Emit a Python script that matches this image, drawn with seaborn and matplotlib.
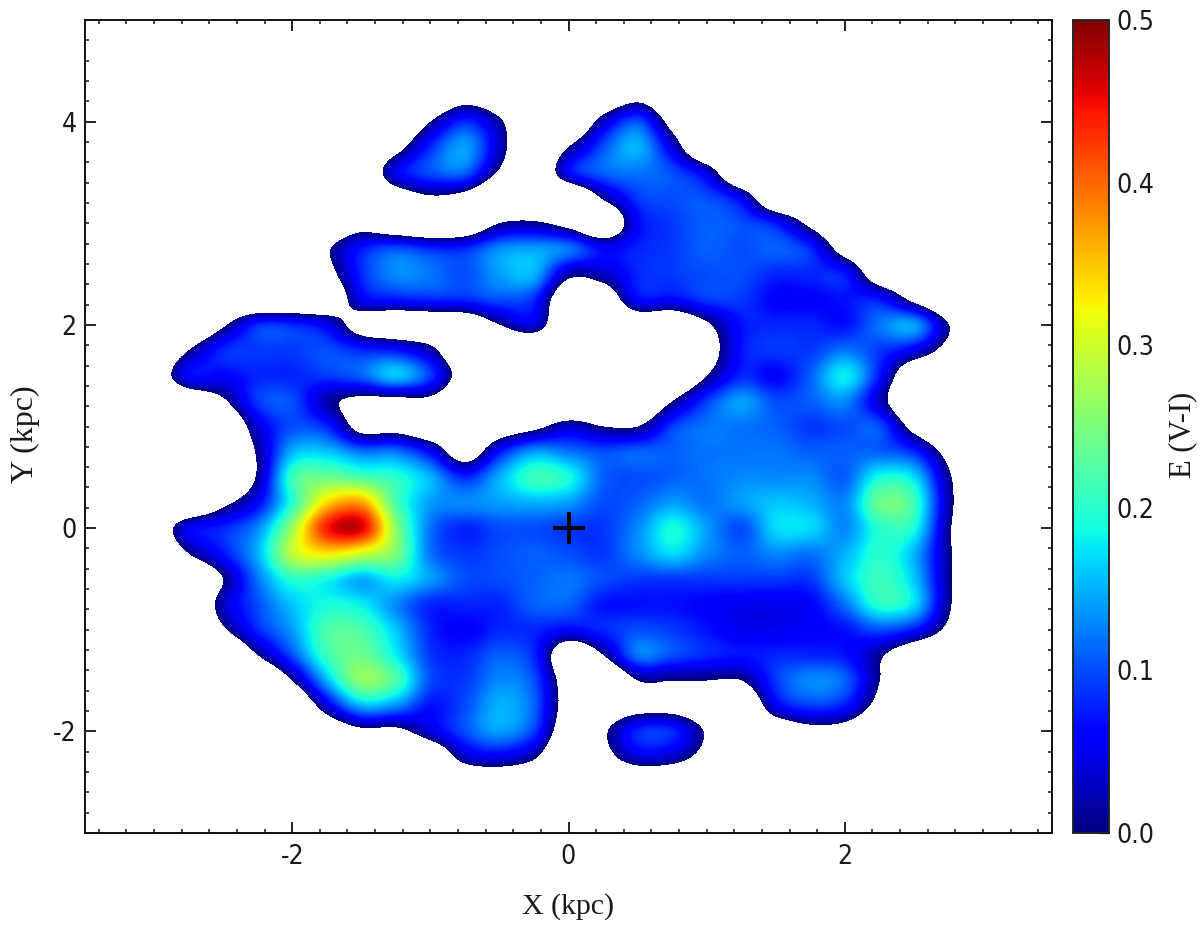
import numpy as np
import pandas as pd
import matplotlib
matplotlib.use('Agg')
import matplotlib.pyplot as plt
import seaborn as sns

# grid, one point every 0.25 kpc, E(V-I) in hundredths
# negative values sit outside the mapped region
x_kpc = [-3, -2.75, -2.5, -2.25, -2, -1.75, -1.5, -1.25, -1, -0.75, -0.5, -0.25, 0,
         0.25, 0.5, 0.75, 1, 1.25, 1.5, 1.75, 2, 2.25, 2.5, 2.75, 3]
y_kpc = [4.5, 4.25, 4, 3.75, 3.5, 3.25, 3, 2.75, 2.5, 2.25, 2, 1.75, 1.5, 1.25, 1, 0.75,
         0.5, 0.25, 0, -0.25, -0.5, -0.75, -1, -1.25, -1.5, -1.75, -2, -2.25, -2.5]
O = -10
e_vi = [
    [O, O, O, O, O, O, O, O, O, O, O, O, O, O, O, O, O, O, O, O, O, O, O, O, O],
    [O, O, O, O, O, O, O, O, -9, -4, -7, O, O, -8, -3, -9, O, O, O, O, O, O, O, O, O],
    [O, O, O, O, O, O, O, O, 0, 8, 1, O, O, 3, 10, -3, O, O, O, O, O, O, O, O, O],
    [O, O, O, O, O, O, O, -3, 8, 14, 3, O, 0, 10, 15, 4, O, O, O, O, O, O, O, O, O],
    [O, O, O, O, O, O, -8, 5, 10, 11, -1, -9, 6, 11, 12, 10, 4, O, O, O, O, O, O, O, O],
    [O, O, O, O, O, O, O, -5, -1, -3, O, O, O, 1, 9, 10, 10, 5, -9, O, O, O, O, O, O],
    [O, O, O, O, O, -8, -4, -8, O, -8, 0, 1, -3, -9, 6, 9, 11, 10, 7, -2, O, O, O, O, O],
    [O, O, O, O, O, -1, 7, 10, 8, 8, 13, 14, 12, 6, 8, 9, 11, 10, 11, 8, -4, O, O, O, O],
    [O, O, O, O, O, -3, 8, 13, 12, 10, 14, 15, 2, 3, 8, 9, 10, 10, 8, 8, 7, -6, O, O, O],
    [O, O, O, O, O, -8, 5, 7, 8, 8, 10, 8, -8, -6, 6, 6, 9, 9, 6, 6, 7, 7, -2, O, O],
    [O, O, -1, 8, 8, 5, -4, -7, -7, -7, 0, 4, O, O, -7, -8, -1, 7, 8, 8, 7, 12, 14, 0, O],
    [O, 0, 8, 9, 9, 10, 8, 7, 2, -9, O, O, O, O, O, O, -4, 7, 9, 9, 12, 9, 5, -3, O],
    [-6, 6, 6, 8, 8, 9, 11, 16, 9, -5, O, O, O, O, O, O, 0, 8, 6, 11, 18, 7, -8, O, O],
    [O, -7, -1, 9, 10, 2, -2, -2, -2, O, O, O, O, O, O, 0, 9, 14, 10, 11, 13, 3, O, O, O],
    [O, O, -9, 4, 10, 8, -3, -3, -7, O, -6, -2, 3, 0, 0, 9, 12, 12, 11, 9, 10, 10, -3, O, O],
    [O, O, O, 1, 15, 16, 12, 12, 6, -5, 7, 14, 12, 10, 11, 11, 12, 12, 12, 11, 11, 11, 8, -3, O],
    [O, O, O, 1, 21, 24, 22, 20, 15, 8, 15, 21, 19, 11, 10, 11, 12, 13, 13, 13, 11, 19, 17, 1, O],
    [O, O, -2, 6, 20, 34, 37, 22, 14, 13, 14, 15, 14, 10, 11, 14, 12, 14, 16, 15, 13, 24, 21, 2, O],
    [-6, 5, 8, 13, 27, 44, 46, 26, 12, 8, 10, 10, 9, 9, 13, 19, 14, 10, 17, 17, 13, 20, 19, 1, O],
    [O, 0, 7, 15, 29, 33, 30, 25, 12, 9, 10, 11, 10, 9, 13, 17, 13, 11, 13, 12, 15, 20, 15, 1, O],
    [O, O, 0, 12, 20, 19, 15, 18, 14, 10, 10, 11, 12, 10, 9, 9, 9, 9, 9, 9, 16, 21, 16, 1, O],
    [O, O, 3, 10, 16, 19, 18, 13, 8, 8, 8, 11, 11, 7, 7, 7, 6, 5, 5, 6, 12, 20, 17, 1, O],
    [O, O, -1, 8, 14, 22, 22, 16, 8, 6, 8, 8, 6, 8, 10, 9, 7, 5, 5, 6, 7, 10, 7, -2, O],
    [O, O, O, 0, 10, 21, 24, 18, 9, 8, 11, 8, -7, 0, 12, 10, 8, 7, 8, 8, 7, 1, -7, O, O],
    [O, O, O, O, 0, 15, 26, 22, 10, 9, 13, 10, -5, O, 0, 0, 0, 0, 9, 13, 11, 0, O, O, O],
    [O, O, O, O, -9, 4, 15, 13, 7, 10, 15, 11, -4, -6, -3, -3, -6, -9, 5, 9, 7, -3, O, O, O],
    [O, O, O, O, O, -7, -2, -2, 4, 10, 14, 9, -6, -1, 8, 8, -1, O, -7, -3, -4, O, O, O, O],
    [O, O, O, O, O, O, O, O, -8, 3, 5, 1, O, -3, 4, 3, -3, O, O, O, O, O, O, O, O],
    [O, O, O, O, O, O, O, O, O, -8, -7, -8, O, O, -8, -8, O, O, O, O, O, O, O, O, O],
]
x_major = [-2, 0, 2]
y_major = [-2, 0, 2, 4]
cbar_ticks = [0.0, 0.1, 0.2, 0.3, 0.4, 0.5]
galactic_centre = (0, 0)

sns.set_style('ticks')
tick_font = dict(family='DejaVu Sans', stretch='condensed', fontsize=19, color='#1a1a1a')

df = pd.DataFrame(np.array(e_vi) / 100.0, index=y_kpc, columns=x_kpc)

cmap = plt.get_cmap('jet').copy()
cmap.set_under('white')

fig = plt.figure(figsize=(12, 9.31), dpi=100)
ax = fig.add_axes([85 / 1200, 98 / 931, 967 / 1200, 813 / 931])
cax = fig.add_axes([1073 / 1200, 98 / 931, 36 / 1200, 813 / 931])

sns.heatmap(df, ax=ax, cbar_ax=cax, cmap=cmap, vmin=0, vmax=0.5,
            xticklabels=False, yticklabels=False)
# the heatmap gives the scale and colour bar, the smooth map goes on top
ax.collections[0].set_visible(False)
ax.imshow(df.values, cmap=cmap, vmin=0, vmax=0.5, aspect='auto',
          interpolation='catrom', interpolation_stage='data',
          extent=(x_kpc[0] - 0.125, x_kpc[-1] + 0.125, y_kpc[-1] - 0.125, y_kpc[0] + 0.125))
ax.plot(*galactic_centre, marker='+', color='black', markersize=23, markeredgewidth=2.8)

ax.set_xlim(-3.5, 3.5)
ax.set_ylim(-3, 5)
ax.set_xticks(x_major)
ax.set_yticks(y_major)
ax.set_xticklabels(x_major, **tick_font)
ax.set_yticklabels(y_major, **tick_font)
ax.xaxis.set_minor_locator(matplotlib.ticker.MultipleLocator(0.2))
ax.yaxis.set_minor_locator(matplotlib.ticker.MultipleLocator(0.2))
ax.tick_params(which='major', direction='in', length=8, width=1.3, color='#111111',
               top=True, right=True, bottom=True, left=True)
ax.tick_params(which='minor', direction='in', length=3, width=1.1, color='#111111',
               top=True, right=True, bottom=True, left=True)
ax.tick_params(axis='x', which='major', pad=8)
ax.tick_params(axis='y', which='major', pad=6)
for spine in ax.spines.values():
    spine.set_visible(True)
    spine.set_linewidth(1.4)
    spine.set_color('#111111')
ax.set_xlabel('X (kpc)', family='Liberation Serif', fontsize=21.5, color='#1a1a1a')
ax.set_ylabel('Y (kpc)', family='Liberation Serif', fontsize=23, color='#1a1a1a')
ax.xaxis.set_label_coords(0.5, -0.074)
ax.yaxis.set_label_coords(-0.047, 0.49)

cax.set_yticks(cbar_ticks)
cax.set_yticklabels([f'{t:.1f}' for t in cbar_ticks], **tick_font)
cax.yaxis.set_minor_locator(matplotlib.ticker.MultipleLocator(0.025))
cax.tick_params(axis='y', which='major', direction='in', length=7, width=0.9, color='#111111', pad=5)
cax.tick_params(axis='y', which='minor', direction='in', length=4, width=0.8, color='#111111')
for spine in cax.spines.values():
    spine.set_visible(True)
    spine.set_linewidth(1.1)
    spine.set_color('#222222')
cax.set_ylabel('E (V-I)', family='Liberation Serif', fontsize=22, color='#1a1a1a')
cax.yaxis.set_label_coords(2.65, 0.49)

fig.savefig('out.png', dpi=100)
plt.close(fig)
